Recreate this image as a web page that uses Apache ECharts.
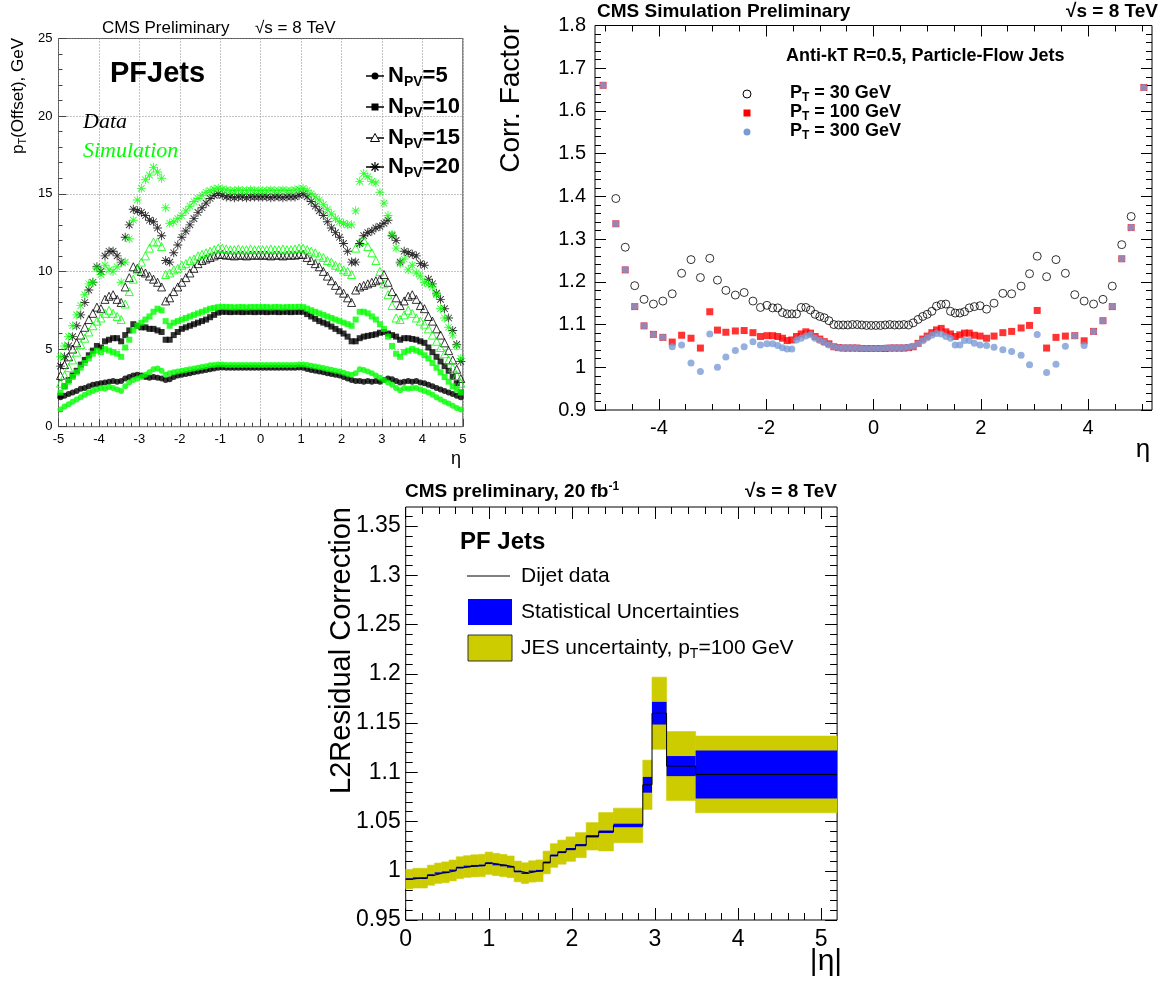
<!DOCTYPE html>
<html>
<head>
<meta charset="utf-8">
<script src="https://cdn.jsdelivr.net/npm/echarts@6.0.0/dist/echarts.min.js"></script>
<style>
html,body{margin:0;padding:0;background:#fff;}
#chart{width:1170px;height:992px;}
</style>
</head>
<body>
<div id="chart"></div>
<script>
// ================= Panel A : pile-up offset pT vs eta (0.1 wide eta bins) =================
const offsetEta = [
 -4.95,-4.85,-4.75,-4.65,-4.55,-4.45,-4.35,-4.25,-4.15,-4.05,
 -3.95,-3.85,-3.75,-3.65,-3.55,-3.45,-3.35,-3.25,-3.15,-3.05,
 -2.95,-2.85,-2.75,-2.65,-2.55,-2.45,-2.35,-2.25,-2.15,-2.05,
 -1.95,-1.85,-1.75,-1.65,-1.55,-1.45,-1.35,-1.25,-1.15,-1.05,
 -0.95,-0.85,-0.75,-0.65,-0.55,-0.45,-0.35,-0.25,-0.15,-0.05,
 0.05,0.15,0.25,0.35,0.45,0.55,0.65,0.75,0.85,0.95,
 1.05,1.15,1.25,1.35,1.45,1.55,1.65,1.75,1.85,1.95,
 2.05,2.15,2.25,2.35,2.45,2.55,2.65,2.75,2.85,2.95,
 3.05,3.15,3.25,3.35,3.45,3.55,3.65,3.75,3.85,3.95,
 4.05,4.15,4.25,4.35,4.45,4.55,4.65,4.75,4.85,4.95
];
const dataNpv5 = [
 1.9,2.0,2.1,2.2,2.3,2.45,2.5,2.6,2.7,2.75,
 2.8,2.85,2.9,2.95,2.9,2.95,3.1,3.2,3.3,3.35,
 3.3,3.2,3.15,3.2,3.15,3.1,3.0,3.05,3.2,3.3,
 3.35,3.4,3.45,3.5,3.55,3.6,3.65,3.7,3.75,3.8,
 3.82,3.8,3.8,3.79,3.8,3.8,3.79,3.8,3.8,3.8,
 3.8,3.8,3.79,3.8,3.8,3.79,3.8,3.8,3.8,3.82,
 3.8,3.72,3.65,3.6,3.55,3.5,3.45,3.4,3.35,3.3,
 3.2,3.1,3.0,2.95,2.95,2.9,2.95,2.9,2.95,2.9,
 3.0,3.1,3.05,2.95,2.85,2.9,2.95,2.9,2.95,2.85,
 2.8,2.7,2.6,2.5,2.4,2.3,2.2,2.1,2.0,1.9
];
const simNpv5 = [
 1.1,1.3,1.45,1.6,1.75,1.9,2.05,2.2,2.3,2.4,
 2.5,2.45,2.55,2.5,2.4,2.3,2.6,2.85,3.0,3.1,
 3.2,3.35,3.5,3.7,3.75,3.6,3.35,3.45,3.5,3.55,
 3.6,3.65,3.7,3.75,3.8,3.85,3.9,3.95,3.97,4.0,
 4.0,3.98,3.98,3.98,3.97,3.98,3.98,3.97,3.98,3.98,
 3.98,3.98,3.97,3.98,3.98,3.97,3.98,3.98,3.98,4.0,
 4.0,3.97,3.93,3.88,3.83,3.78,3.72,3.66,3.6,3.55,
 3.48,3.4,3.35,3.45,3.7,3.65,3.55,3.45,3.3,3.15,
 3.0,2.85,2.7,2.5,2.35,2.5,2.45,2.5,2.5,2.4,
 2.3,2.2,2.05,1.9,1.75,1.6,1.5,1.35,1.2,1.1
];
const dataNpv10 = [
 2.0,2.6,3.0,3.3,3.6,4.0,4.3,4.6,4.9,5.2,
 5.1,5.5,5.6,5.7,5.7,5.5,5.9,6.2,6.6,6.5,
 6.4,6.4,6.3,6.3,6.2,6.1,5.6,5.6,5.9,6.1,
 6.3,6.4,6.5,6.6,6.7,6.8,6.9,7.05,7.2,7.35,
 7.4,7.4,7.38,7.4,7.4,7.38,7.4,7.4,7.38,7.4,
 7.4,7.38,7.4,7.4,7.38,7.4,7.4,7.38,7.4,7.4,
 7.4,7.25,7.1,6.95,6.8,6.7,6.6,6.45,6.3,6.15,
 6.0,5.8,5.5,5.5,5.7,5.8,5.85,5.9,5.95,6.05,
 6.1,6.0,5.9,5.8,5.6,5.7,5.7,5.65,5.6,5.5,
 5.4,5.1,4.8,4.5,4.2,3.9,3.6,3.2,2.8,2.2
];
const simNpv10 = [
 2.2,2.6,2.9,3.2,3.5,3.8,4.1,4.4,4.7,4.9,
 4.8,5.0,4.9,4.8,4.7,4.5,5.1,5.6,6.2,6.5,
 6.7,6.9,7.1,7.4,7.6,7.5,6.8,6.5,6.7,6.8,
 6.9,7.0,7.1,7.2,7.3,7.4,7.5,7.6,7.65,7.7,
 7.72,7.7,7.7,7.68,7.7,7.7,7.68,7.7,7.7,7.7,
 7.7,7.7,7.68,7.7,7.7,7.68,7.7,7.7,7.7,7.72,
 7.7,7.6,7.5,7.4,7.3,7.2,7.1,7.0,6.9,6.8,
 6.7,6.6,6.5,6.9,7.4,7.4,7.3,7.1,6.9,6.6,
 6.3,5.8,5.2,4.7,4.5,4.8,4.9,5.0,4.9,4.8,
 4.6,4.4,4.1,3.8,3.5,3.2,2.9,2.6,2.4,2.2
];
const dataNpv15 = [
 3.3,4.0,4.5,5.0,5.4,5.9,6.4,6.9,7.3,7.7,
 7.6,8.2,8.4,8.5,8.2,8.0,9.0,9.6,10.3,10.2,
 10.0,9.9,9.7,9.5,9.3,9.0,8.1,8.3,8.7,9.0,
 9.3,9.6,9.9,10.2,10.5,10.7,10.8,10.9,11.0,11.1,
 11.1,11.05,11.05,11.0,11.05,11.05,11.0,11.05,11.05,11.05,
 11.05,11.05,11.0,11.05,11.05,11.0,11.05,11.05,11.05,11.1,
 11.1,10.9,10.7,10.5,10.3,10.0,9.7,9.4,9.1,8.8,
 8.6,8.3,8.0,8.8,9.0,9.1,9.2,9.3,9.4,9.5,
 9.8,9.3,8.7,8.3,7.8,8.1,8.4,8.5,8.2,7.8,
 7.6,7.1,6.8,6.3,5.9,5.4,4.9,4.3,3.7,3.1
];
const simNpv15 = [
 2.8,3.3,3.8,4.3,4.8,5.3,5.7,6.1,6.5,6.8,
 7.0,7.3,7.5,7.3,7.1,6.9,7.9,8.7,9.5,10.1,
 10.6,11.0,11.5,11.9,11.9,11.6,9.8,9.9,10.1,10.2,
 10.4,10.5,10.7,10.8,11.0,11.1,11.2,11.3,11.4,11.5,
 11.5,11.45,11.4,11.4,11.45,11.4,11.4,11.45,11.4,11.4,
 11.4,11.4,11.45,11.4,11.4,11.45,11.4,11.4,11.45,11.5,
 11.5,11.4,11.3,11.2,11.0,10.9,10.7,10.6,10.4,10.3,
 10.1,10.0,9.8,11.5,11.9,12.0,11.6,11.2,10.7,10.0,
 9.2,8.5,7.8,7.0,6.9,7.2,7.5,7.3,7.0,6.8,
 6.6,6.3,5.9,5.5,5.1,4.7,4.3,3.8,3.3,2.8
];
const dataNpv20 = [
 3.9,4.5,5.2,5.8,6.5,7.2,8.0,8.8,9.3,10.3,
 10.0,11.0,11.3,11.3,11.0,10.6,12.2,13.0,14.0,13.9,
 13.8,13.6,13.3,13.2,12.8,12.3,10.7,10.6,11.2,11.7,
 12.2,12.6,13.0,13.4,13.8,14.1,14.4,14.7,14.9,15.0,
 14.9,14.8,14.8,14.75,14.8,14.8,14.75,14.8,14.8,14.8,
 14.8,14.8,14.75,14.8,14.8,14.75,14.8,14.8,14.8,14.9,
 15.0,14.8,14.5,14.2,13.9,13.6,13.2,12.8,12.5,12.2,
 11.8,11.3,10.6,10.6,11.8,12.3,12.5,12.6,12.8,12.9,
 13.1,13.3,12.3,12.0,10.6,11.3,11.2,11.1,11.0,10.5,
 10.4,9.5,9.2,8.6,8.2,7.6,7.0,6.2,5.3,4.2
];
const simNpv20 = [
 4.5,5.2,5.8,6.5,7.2,7.8,8.5,9.2,9.3,10.2,
 9.8,10.4,10.1,10.0,10.3,9.3,10.6,12.1,13.3,14.6,
 15.35,15.9,16.2,16.7,16.4,16.0,14.1,13.1,13.2,13.4,
 13.6,13.9,14.2,14.5,14.7,14.9,15.1,15.2,15.3,15.35,
 15.3,15.25,15.2,15.2,15.25,15.2,15.2,15.25,15.2,15.2,
 15.2,15.2,15.25,15.2,15.2,15.25,15.2,15.2,15.25,15.3,
 15.35,15.2,15.0,14.8,14.6,14.3,14.0,13.7,13.4,13.2,
 13.1,13.0,13.0,13.9,15.8,16.3,16.1,15.8,15.7,15.1,
 14.4,13.6,12.4,11.5,10.5,10.8,10.1,10.4,9.9,9.7,
 9.3,9.2,9.0,8.5,7.6,7.0,6.4,5.9,5.2,4.4
];

// ================= Panel B : simulated correction factor vs eta =================
const corrEta = [
 -5.04,-4.8025,-4.627,-4.4505,-4.277,-4.102,-3.926,-3.7515,-3.5765,-3.4015,
 -3.2265,-3.0515,-2.9085,-2.7515,-2.575,-2.411,-2.247,-2.1075,-1.9865,-1.88,
 -1.785,-1.6965,-1.6095,-1.5225,-1.4355,-1.3485,-1.2615,-1.1745,-1.0875,-1.0005,
 -0.918,-0.831,-0.7395,-0.6525,-0.5655,-0.4785,-0.3915,-0.3045,-0.2175,-0.1305,-0.0435,
 0.0435,0.1305,0.2175,0.3045,0.3915,0.4785,0.5655,0.6525,0.7395,0.831,
 0.918,1.0005,1.0875,1.1745,1.2615,1.3485,1.4355,1.5225,1.6095,1.6965,
 1.785,1.88,1.9865,2.1075,2.247,2.411,2.575,2.7515,2.9085,3.0515,
 3.2265,3.4015,3.5765,3.7515,3.926,4.102,4.277,4.4505,4.627,4.8025,5.04
];
const corrPt30 = [
 null,1.395,1.281,1.191,1.159,1.148,1.155,1.172,1.220,1.252,
 1.210,1.255,1.204,1.180,1.169,1.175,1.155,1.140,1.145,1.139,
 1.139,1.128,1.125,1.125,1.125,1.140,1.140,1.134,1.124,1.119,
 1.116,1.109,1.100,1.099,1.099,1.099,1.100,1.100,1.099,1.098,1.098,
 1.098,1.098,1.099,1.100,1.099,1.099,1.100,1.099,1.104,1.112,
 1.119,1.124,1.131,1.143,1.147,1.148,1.131,1.127,1.127,1.130,
 1.139,1.142,1.144,1.136,1.150,1.173,1.172,1.190,1.219,1.260,
 1.212,1.252,1.220,1.170,1.155,1.148,1.159,1.190,1.287,1.353,null
];
const corrPt100 = [
 1.660,1.336,1.228,1.142,1.097,1.077,1.070,1.059,1.075,1.068,
 1.045,1.130,1.087,1.082,1.085,1.086,1.081,1.072,1.074,1.074,
 1.072,1.068,1.0625,1.064,1.072,1.078,1.083,1.080,1.072,1.066,
 1.060,1.055,1.048,1.046,1.045,1.045,1.045,1.045,1.044,1.044,1.044,
 1.044,1.044,1.044,1.045,1.045,1.045,1.045,1.046,1.048,1.056,
 1.066,1.073,1.081,1.0875,1.091,1.083,1.078,1.072,1.076,1.080,
 1.080,1.075,1.073,1.068,1.073,1.081,1.084,1.092,1.098,1.133,
 1.045,1.070,1.073,1.074,1.062,1.084,1.109,1.142,1.254,1.327,1.655
];
const corrPt300 = [
 1.660,1.336,1.228,1.142,1.097,1.077,1.070,1.048,1.052,1.010,
 0.990,1.078,1.000,1.024,1.039,1.048,1.060,1.052,1.055,1.055,
 1.051,1.046,1.043,1.043,1.064,1.068,1.073,1.076,1.068,1.0625,
 1.058,1.052,1.048,1.046,1.046,1.046,1.046,1.045,1.044,1.044,1.044,
 1.044,1.044,1.045,1.045,1.046,1.046,1.046,1.047,1.049,1.055,
 1.062,1.069,1.075,1.079,1.078,1.072,1.068,1.052,1.052,1.0625,
 1.0625,1.056,1.052,1.051,1.047,1.041,1.037,1.028,1.006,1.077,
 0.9875,1.007,1.049,1.074,1.051,1.084,1.109,1.142,1.254,1.327,1.655
];
const corrXLabels = [-4,-2,0,2,4];
const corrXMinor = [-5,-4.5,-3.5,-3,-2.5,-1.5,-1,-0.5,0.5,1,1.5,2.5,3,3.5,4.5,5];
const corrYTicks = [0.9,1.0,1.1,1.2,1.3,1.4,1.5,1.6,1.7,1.8];

// ================= Panel C : L2Residual correction vs |eta| =================
const l2Edges = [0,0.087,0.174,0.261,0.348,0.435,0.522,0.609,0.696,0.783,0.879,0.957,1.044,1.131,1.218,1.305,1.392,1.479,1.566,1.653,1.74,1.83,1.93,2.043,2.172,2.322,2.5,2.853,2.964,3.139,3.489,5.191];
const l2Value = [0.9915,0.9925,0.9925,0.9955,0.9975,0.9985,1.0003,1.0032,1.0043,1.0050,1.0054,1.0077,1.0064,1.0054,1.0040,0.9993,0.9976,0.9993,1.0000,1.0084,1.0155,1.0189,1.0220,1.0260,1.0350,1.0396,1.0460,1.0873,1.1600,1.1063,1.0978];
const l2Stat  = [0.0009,0.0009,0.0009,0.0009,0.0009,0.0009,0.0009,0.0009,0.0009,0.0009,0.0009,0.0009,0.0009,0.0009,0.0009,0.0009,0.0009,0.0009,0.0009,0.0010,0.0010,0.0010,0.0011,0.0011,0.0012,0.0013,0.0018,0.0080,0.0115,0.0102,0.0244];
const l2Jes   = [0.0098,0.0100,0.0100,0.0102,0.0103,0.0105,0.0106,0.0110,0.0110,0.0112,0.0113,0.0113,0.0113,0.0112,0.0110,0.0105,0.0105,0.0108,0.0110,0.0115,0.0120,0.0122,0.0124,0.0127,0.0139,0.0195,0.0176,0.0250,0.0366,0.0350,0.0390];
const l2XTicks = [0,1,2,3,4,5];
const l2YTicks = [0.95,1.0,1.05,1.1,1.15,1.2,1.25,1.3,1.35];
const l2XMax = 5.191;
const l2YMax = 1.3694;

// ---------------------------------------------------------------
const FONT = '"Liberation Sans", Arial, Helvetica, sans-serif';
const SERIF = '"Liberation Serif", "Times New Roman", serif';
const GREEN = '#00ff00';
const STAR = 'path://M0 9L20 9L20 11L0 11Z M9 0L11 0L11 20L9 20Z M2 3.4L3.4 2L18 16.6L16.6 18Z M16.6 2L18 3.4L3.4 18L2 16.6Z';

function minorTicks(a, b, step, majors) {
  const out = [];
  const n = Math.round((b - a) / step);
  for (let i = 0; i <= n; i++) {
    const v = +(a + i * step).toFixed(5);
    if (!majors.some(m => Math.abs(m - v) < 1e-6)) out.push(v);
  }
  return out;
}
const l2XMinor = minorTicks(0, 5.0, 0.2, l2XTicks);
const l2YMinor = minorTicks(0.95, 1.36, 0.01, l2YTicks);
const corrYMinor = minorTicks(0.9, 1.8, 0.02, corrYTicks);

function pts(xs, ys) { return xs.map((x, i) => [x, ys[i]]).filter(p => p[1] != null); }

// ---------- axes ----------
const tickCol = '#000';
function tickAxis(grid, pos, min, max, values, len, labels, fontSize, margin) {
  return {
    type: 'value', gridIndex: grid, position: pos, min, max,
    axisLine: { show: false, onZero: false },
    splitLine: { show: false },
    axisTick: { show: true, inside: true, length: len, customValues: values, lineStyle: { color: tickCol, width: 1 } },
    axisLabel: labels ? { show: true, customValues: labels, fontSize, fontFamily: FONT, color: '#000', margin } : { show: false }
  };
}

const xAxes = [
  { type: 'value', gridIndex: 0, position: 'bottom', min: -5, max: 5, interval: 1,
    axisLine: { show: false, onZero: false },
    axisTick: { show: true, inside: true, length: 8, lineStyle: { color: '#444' } },
    minorTick: { show: true, splitNumber: 5, length: 4, lineStyle: { color: '#444' } },
    splitLine: { show: true, lineStyle: { type: [1, 2], color: '#888', width: 1 } },
    axisLabel: { fontSize: 13, fontFamily: FONT, color: '#000', margin: 6 } },
  tickAxis(1, 'bottom', -5.191, 5.191, corrXLabels, 11, corrXLabels, 20, 8),
  tickAxis(1, 'bottom', -5.191, 5.191, corrXMinor, 6),
  tickAxis(1, 'top', -5.191, 5.191, corrXLabels, 11),
  tickAxis(1, 'top', -5.191, 5.191, corrXMinor, 6),
  tickAxis(2, 'bottom', 0, l2XMax, l2XTicks, 12, l2XTicks, 23, 8),
  tickAxis(2, 'bottom', 0, l2XMax, l2XMinor, 7),
  tickAxis(2, 'top', 0, l2XMax, l2XTicks, 12),
  tickAxis(2, 'top', 0, l2XMax, l2XMinor, 7)
];
const yAxes = [
  { type: 'value', gridIndex: 0, position: 'left', min: 0, max: 25, interval: 5,
    axisLine: { show: false, onZero: false },
    axisTick: { show: true, inside: true, length: 8, lineStyle: { color: '#444' } },
    minorTick: { show: true, splitNumber: 5, length: 4, lineStyle: { color: '#444' } },
    splitLine: { show: true, lineStyle: { type: [1, 2], color: '#888', width: 1 } },
    axisLabel: { fontSize: 13, fontFamily: FONT, color: '#000', margin: 6 } },
  tickAxis(1, 'left', 0.9, 1.8, corrYTicks, 11, corrYTicks, 20, 9),
  tickAxis(1, 'left', 0.9, 1.8, corrYMinor, 6),
  tickAxis(1, 'right', 0.9, 1.8, corrYTicks, 11),
  tickAxis(1, 'right', 0.9, 1.8, corrYMinor, 6),
  tickAxis(2, 'left', 0.95, l2YMax, l2YTicks, 12, l2YTicks, 23, 5),
  tickAxis(2, 'left', 0.95, l2YMax, l2YMinor, 7),
  tickAxis(2, 'right', 0.95, l2YMax, l2YTicks, 12),
  tickAxis(2, 'right', 0.95, l2YMax, l2YMinor, 7)
];

// ---------- series ----------
const npvDefs = [
  { d: dataNpv5,  s: simNpv5,  sym: 'circle',   size: 6, hollow: false },
  { d: dataNpv10, s: simNpv10, sym: 'rect',     size: 6, hollow: false },
  { d: dataNpv15, s: simNpv15, sym: 'triangle', size: 8, hollow: true },
  { d: dataNpv20, s: simNpv20, sym: STAR,       size: 9, hollow: false }
];
const series = [];
npvDefs.forEach(def => {
  [[def.d, '#000'], [def.s, GREEN]].forEach(([arr, col]) => {
    series.push({
      type: 'scatter', xAxisIndex: 0, yAxisIndex: 0, data: pts(offsetEta, arr),
      symbol: def.sym, symbolSize: def.size,
      itemStyle: def.hollow ? { color: 'rgba(0,0,0,0)', borderColor: col, borderWidth: 1 } : { color: col },
      emphasis: { disabled: true }, z: 3
    });
  });
});
series.push(
  { type: 'scatter', xAxisIndex: 1, yAxisIndex: 1, data: pts(corrEta, corrPt30), symbol: 'circle', symbolSize: 8,
    itemStyle: { color: 'rgba(0,0,0,0)', borderColor: '#000', borderWidth: 1 }, z: 3 },
  { type: 'scatter', xAxisIndex: 1, yAxisIndex: 1, data: pts(corrEta, corrPt100), symbol: 'rect', symbolSize: 7,
    itemStyle: { color: '#ff0000' }, z: 4 },
  { type: 'scatter', xAxisIndex: 1, yAxisIndex: 1, data: pts(corrEta, corrPt300), symbol: 'circle', symbolSize: 7,
    itemStyle: { color: '#7b9bd6' }, z: 5 }
);
function bandSeries(err, color, z, stroke) {
  return {
    type: 'custom', xAxisIndex: 5, yAxisIndex: 5, z, clip: true,
    data: l2Value.map((v, i) => [l2Edges[i], l2Edges[i + 1], v - err[i], v + err[i]]),
    encode: { x: [0, 1], y: [2, 3] },
    renderItem: (params, api) => {
      const p0 = api.coord([api.value(0), api.value(3)]);
      const p1 = api.coord([api.value(1), api.value(2)]);
      return { type: 'rect', shape: { x: p0[0], y: p0[1], width: p1[0] - p0[0], height: p1[1] - p0[1] },
               style: { fill: color, stroke: stroke ? color : null, lineWidth: stroke ? 0.6 : 0 } };
    }
  };
}
series.push(bandSeries(l2Jes, '#cccc00', 2, true), bandSeries(l2Stat, '#0000ff', 3, false));
const stepData = l2Value.map((v, i) => [l2Edges[i], v]);
stepData.push([l2Edges[l2Edges.length - 1], l2Value[l2Value.length - 1]]);
series.push({ type: 'line', xAxisIndex: 5, yAxisIndex: 5, data: stepData, step: 'end', showSymbol: false,
  lineStyle: { color: '#000', width: 1 }, z: 4, silent: true });

// ---------- text / legend graphics ----------
const G = [];
function T(x, y, text, st, extra) {
  G.push(Object.assign({ type: 'text', x, y, z: 50, silent: true,
    style: Object.assign({ text, fill: '#000', fontFamily: FONT, fontSize: 16, align: 'left', verticalAlign: 'middle' }, st) }, extra || {}));
}
// Panel A texts
T(102, 28, 'CMS Preliminary', { fontSize: 17 });
T(255, 28, '√s = 8 TeV', { fontSize: 17 });
T(110, 74, 'PFJets', { fontSize: 29, fontWeight: 'bold' });
T(83, 122, 'Data', { fontSize: 22, fontFamily: SERIF, fontStyle: 'italic' });
T(83, 151, 'Simulation', { fontSize: 22, fontFamily: SERIF, fontStyle: 'italic', fill: GREEN });
T(18, 38, '{a|p}{s|T}{a|(Offset), GeV}', { align: 'right', rich: {
  a: { fontSize: 17, fontFamily: FONT }, s: { fontSize: 11, fontFamily: FONT, padding: [9, 0, 0, 0] } } }, { rotation: Math.PI / 2 });
T(456, 459, 'η', { fontSize: 18, align: 'center' });
const legRows = [76, 107, 138, 167];
const legNames = ['5', '10', '15', '20'];
legRows.forEach((y, i) => {
  G.push({ type: 'line', shape: { x1: 366, y1: y, x2: 384, y2: y }, style: { stroke: '#000', lineWidth: 1.5 }, z: 50 });
  if (i === 0) G.push({ type: 'circle', shape: { cx: 375, cy: y, r: 3.5 }, style: { fill: '#000' }, z: 51 });
  if (i === 1) G.push({ type: 'rect', shape: { x: 371.5, y: y - 3.5, width: 7, height: 7 }, style: { fill: '#000' }, z: 51 });
  if (i === 2) G.push({ type: 'polygon', shape: { points: [[375, y - 4.5], [379.5, y + 3.5], [370.5, y + 3.5]] }, style: { fill: '#fff', stroke: '#000', lineWidth: 1 }, z: 51 });
  if (i === 3) {
    [[0, 5], [5, 0], [3.5, 3.5], [3.5, -3.5]].forEach(([dx, dy]) => {
      G.push({ type: 'line', shape: { x1: 375 - dx, y1: y - dy, x2: 375 + dx, y2: y + dy }, style: { stroke: '#000', lineWidth: 1.2 }, z: 51 });
    });
  }
  T(388, y, '{a|N}{s|PV}{a|=' + legNames[i] + '}', { rich: {
    a: { fontSize: 22, fontWeight: 'bold', fontFamily: FONT },
    s: { fontSize: 14, fontWeight: 'bold', fontFamily: FONT, padding: [12, 0, 0, 0] } } });
});

// Panel B texts
T(597, 12, 'CMS Simulation Preliminary', { fontSize: 19, fontWeight: 'bold' });
T(1158, 12, '√s = 8 TeV', { fontSize: 19, fontWeight: 'bold', align: 'right' });
T(786, 56, 'Anti-kT R=0.5, Particle-Flow Jets', { fontSize: 18, fontWeight: 'bold' });
T(511, 25, 'Corr. Factor', { fontSize: 28, align: 'right' }, { rotation: Math.PI / 2 });
T(1143, 450, 'η', { fontSize: 26, align: 'center' });
G.push({ type: 'circle', shape: { cx: 747, cy: 94, r: 4 }, style: { fill: 'rgba(0,0,0,0)', stroke: '#000', lineWidth: 1 }, z: 51 });
G.push({ type: 'rect', shape: { x: 743.5, y: 109.5, width: 7, height: 7 }, style: { fill: '#ff0000' }, z: 51 });
G.push({ type: 'circle', shape: { cx: 747, cy: 132, r: 3.5 }, style: { fill: '#7b9bd6' }, z: 51 });
const ptLeg = ['30', '100', '300'];
[93, 112, 131].forEach((y, i) => {
  T(790, y, '{a|P}{s|T}{a| = ' + ptLeg[i] + ' GeV}', { rich: {
    a: { fontSize: 18, fontWeight: 'bold', fontFamily: FONT },
    s: { fontSize: 12, fontWeight: 'bold', fontFamily: FONT, padding: [10, 0, 0, 0] } } });
});

// Panel C texts
T(405, 492, '{a|CMS preliminary, 20 fb}{u|-1}', { rich: {
  a: { fontSize: 19, fontWeight: 'bold', fontFamily: FONT },
  u: { fontSize: 12, fontWeight: 'bold', fontFamily: FONT, padding: [0, 0, 10, 0] } } });
T(837, 492, '√s = 8 TeV', { fontSize: 19, fontWeight: 'bold', align: 'right' });
T(342, 507, 'L2Residual Correction', { fontSize: 29, align: 'right' }, { rotation: Math.PI / 2 });
T(826, 962, '|η|', { fontSize: 30, align: 'center' });
T(460, 542, 'PF Jets', { fontSize: 24, fontWeight: 'bold' });
G.push({ type: 'line', shape: { x1: 467, y1: 576, x2: 510, y2: 576 }, style: { stroke: '#000', lineWidth: 1 }, z: 51 });
T(521, 576, 'Dijet data', { fontSize: 21 });
G.push({ type: 'rect', shape: { x: 468, y: 599, width: 44, height: 26 }, style: { fill: '#0000ff' }, z: 51 });
T(521, 612, 'Statistical Uncertainties', { fontSize: 21 });
G.push({ type: 'rect', shape: { x: 468, y: 635, width: 44, height: 26 }, style: { fill: '#cccc00', stroke: '#333', lineWidth: 1 }, z: 51 });
T(521, 648, '{a|JES uncertainty, p}{s|T}{a|=100 GeV}', { rich: {
  a: { fontSize: 21, fontFamily: FONT },
  s: { fontSize: 14, fontFamily: FONT, padding: [12, 0, 0, 0] } } });

const option = {
  animation: false,
  backgroundColor: '#fff',
  grid: [
    { left: 58.5, top: 38.5, width: 404.3, height: 388.2, show: true, borderColor: '#555', borderWidth: 1, backgroundColor: 'transparent' },
    { left: 595, top: 25.5, width: 557, height: 384.5, show: true, borderColor: '#000', borderWidth: 1, backgroundColor: 'transparent' },
    { left: 405.7, top: 507, width: 431.4, height: 413, show: true, borderColor: '#000', borderWidth: 1, backgroundColor: 'transparent' }
  ],
  xAxis: xAxes,
  yAxis: yAxes,
  series,
  graphic: { elements: G }
};
const chart = echarts.init(document.getElementById('chart'), null, { renderer: 'canvas' });
chart.setOption(option);
</script>
</body>
</html>
